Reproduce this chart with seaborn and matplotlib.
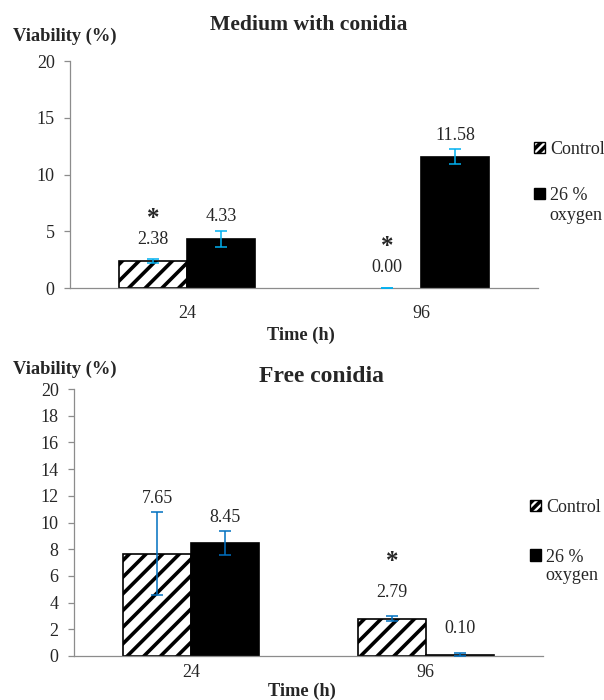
import numpy as np
import pandas as pd
import matplotlib
matplotlib.use("Agg")
import matplotlib.pyplot as plt
import seaborn as sns
from matplotlib.patches import Patch

# ---------------- data ----------------
times = ["24", "96"]
groups = ["Control", "26 % oxygen"]

top_control = [2.38, 0.00]
top_oxygen = [4.33, 11.58]
top_control_err = [0.20, 0.00]
top_oxygen_err = [0.70, 0.65]
top_control_star = [True, True]
top_oxygen_star = [False, False]

bot_control = [7.65, 2.79]
bot_oxygen = [8.45, 0.10]
bot_control_err = [3.10, 0.20]
bot_oxygen_err = [0.90, 0.10]
bot_control_star = [False, True]
bot_oxygen_star = [False, False]

top_yticks = [0, 5, 10, 15, 20]
bot_yticks = [0, 2, 4, 6, 8, 10, 12, 14, 16, 18, 20]

# ---------------- style ----------------
sns.set_style("white")
plt.rcParams["font.family"] = ["Liberation Serif", "DejaVu Serif"]
plt.rcParams["hatch.linewidth"] = 2.6

W, H = 604, 700
fig = plt.figure(figsize=(W / 100, H / 100), dpi=100)
GRAY = "#8c8c8c"


def fx(px):
    return px / W


def fy(py):
    return 1 - py / H


def panel(rect, ctrl, oxy, ctrl_err, oxy_err, ctrl_star, oxy_star, yticks,
          err_color, off_bar_px, star_px, xpad):
    ax = fig.add_axes(rect)
    df = pd.DataFrame({
        "time": times * 2,
        "group": [groups[0]] * len(times) + [groups[1]] * len(times),
        "value": list(ctrl) + list(oxy),
    })
    sns.barplot(data=df, x="time", y="value", hue="group", order=times,
                hue_order=groups, palette={groups[0]: "white", groups[1]: "black"},
                width=0.58, gap=0, edgecolor="black", linewidth=1.2,
                errorbar=None, legend=False, saturation=1, ax=ax)
    ymax = yticks[-1]
    ax.set_ylim(0, ymax)
    ax.set_xlim(-0.5, len(times) - 0.5)
    px_per_unit = ax.bbox.height / ymax
    bar_conts = list(ax.containers)[:2]
    for k, cont in enumerate(bar_conts):
        vals = [ctrl, oxy][k]
        errs = [ctrl_err, oxy_err][k]
        stars = [ctrl_star, oxy_star][k]
        for bar, v, e, s in zip(cont, vals, errs, stars):
            if k == 0:
                bar.set_facecolor("white")
                bar.set_hatch("//")
            if v == 0:
                bar.set_linewidth(0)
            xc = bar.get_x() + bar.get_width() / 2
            ax.errorbar(xc, v, yerr=e, fmt="none", ecolor=err_color,
                        elinewidth=1.1, capsize=4.5, capthick=1.1, zorder=5)
            off = max(off_bar_px, e * px_per_unit + 14)
            ax.annotate(f"{v:.2f}", (xc, v), xytext=(0, off * 0.72),
                        textcoords="offset points", ha="center", va="center",
                        fontsize=13)
            if s:
                ax.annotate("*", (xc, v), xytext=(0, (off + star_px) * 0.72),
                            textcoords="offset points", ha="center",
                            va="center", fontsize=18, fontweight="bold")
    ax.set_xlim(-0.5, len(times) - 0.5)
    ax.set_ylim(0, ymax)
    ax.set_xlabel("")
    ax.set_ylabel("")
    for sp in ["top", "right"]:
        ax.spines[sp].set_visible(False)
    for sp in ["left", "bottom"]:
        ax.spines[sp].set_color(GRAY)
        ax.spines[sp].set_linewidth(0.9)
    ax.set_yticks(yticks)
    ax.set_xticks(range(len(times)))
    ax.set_xticklabels(times)
    ax.set_xticks(np.arange(-0.5, len(times), 1.0), minor=True)
    ax.tick_params(axis="x", which="major", length=0, pad=xpad, labelsize=13)
    ax.tick_params(axis="x", which="minor", length=4, color=GRAY, width=0.9,
                   direction="out")
    ax.tick_params(axis="y", which="major", length=4, color=GRAY, width=0.9,
                   direction="out", pad=7, labelsize=13, left=True)
    return ax


# top panel
panel([fx(70), fy(288), fx(538) - fx(70), fy(61) - fy(288)],
      top_control, top_oxygen, top_control_err, top_oxygen_err,
      top_control_star, top_oxygen_star, top_yticks, "#00B0F0", 21, 21, 12)

# bottom panel
panel([fx(74), fy(656), fx(543) - fx(74), fy(389) - fy(656)],
      bot_control, bot_oxygen, bot_control_err, bot_oxygen_err,
      bot_control_star, bot_oxygen_star, bot_yticks, "#0070C0", 26, 31, 6)

# texts
fig.text(fx(309), fy(25), "Medium with conidia", ha="center", va="center",
         fontsize=15.6, fontweight="bold")
fig.text(fx(322), fy(376), "Free conidia", ha="center", va="center",
         fontsize=17, fontweight="bold")
fig.text(fx(13), fy(36), "Viability (%)", ha="left", va="center",
         fontsize=13.3, fontweight="bold")
fig.text(fx(13), fy(369), "Viability (%)", ha="left", va="center",
         fontsize=13.3, fontweight="bold")
fig.text(fx(301), fy(335), "Time (h)", ha="center", va="center",
         fontsize=13.2, fontweight="bold")
fig.text(fx(302), fy(691), "Time (h)", ha="center", va="center",
         fontsize=13.2, fontweight="bold")

# legends
def legend(x_px, y_top_px, oxy_y_px, spacing):
    handles = [Patch(facecolor="white", edgecolor="black", hatch="////", lw=1.0),
               Patch(facecolor="black", edgecolor="black", lw=1.0)]
    fig.legend(handles, ["Control", "26 %"], loc="upper left",
               bbox_to_anchor=(fx(x_px), fy(y_top_px)), frameon=False,
               fontsize=13, handlelength=0.6, handleheight=0.6,
               handletextpad=0.3, labelspacing=spacing, borderpad=0,
               borderaxespad=0)
    fig.text(fx(x_px + 15), fy(oxy_y_px), "oxygen", ha="left", va="center",
             fontsize=13)


legend(534, 141, 215, 1.6)
legend(530, 499, 575, 1.8)

fig.savefig("out.png", dpi=100)
